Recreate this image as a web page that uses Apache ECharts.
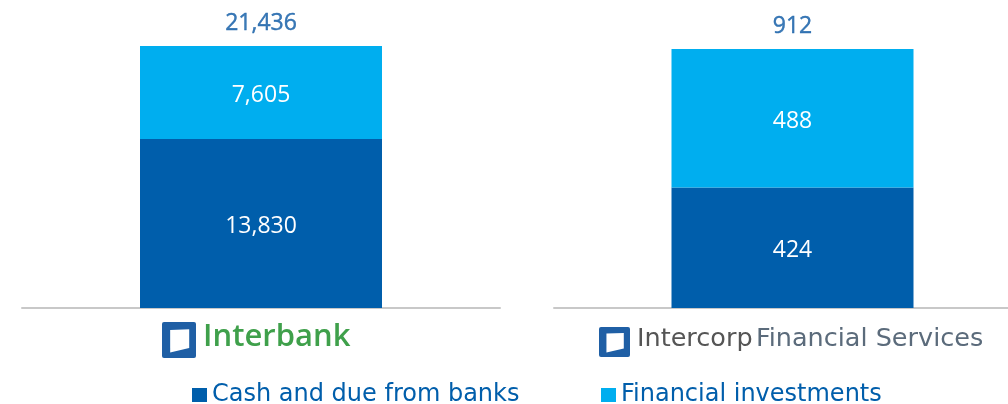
<!DOCTYPE html>
<html><head><meta charset="utf-8">
<script src="https://cdn.jsdelivr.net/npm/echarts@6/dist/echarts.min.js"></script>
<style>html,body{margin:0;padding:0;background:#fff}#c{width:1008px;height:404px}</style>
</head><body><div id="c"></div>
<script>
const categories = ['Interbank', 'Intercorp Financial Services'];
const seriesNames = ['Cash and due from banks', 'Financial investments'];
const cashValues = [13830, 424];
const investValues = [7605, 488];
const totalValues = [21436, 912];

const DARK = '#005EAB', LIGHT = '#00AEEF';
const NUMFONT = 'Open Sans';
const FONT = 'DejaVu Sans';
const chart = echarts.init(document.getElementById('c'));

const grids = [
  {left: 22, width: 478, top: 46, bottom: 96, outerBoundsMode: 'none', containLabel: false},
  {left: 554, width: 477, top: 49, bottom: 96, outerBoundsMode: 'none', containLabel: false}
];
const fmt = v => v.toLocaleString('en-US');
const series = [];
categories.forEach((cat, i) => {
  series.push({
    name: seriesNames[0], type: 'bar', stack: 's' + i, xAxisIndex: i, yAxisIndex: i,
    barWidth: 242, data: [cashValues[i]], itemStyle: {color: DARK},
    label: {show: true, position: 'inside', offset: [0, 3], color: '#fff', fontSize: 23, fontFamily: NUMFONT, formatter: p => fmt(p.value)}
  });
  series.push({
    name: seriesNames[1], type: 'bar', stack: 's' + i, xAxisIndex: i, yAxisIndex: i,
    barWidth: 242, data: [investValues[i]], itemStyle: {color: LIGHT},
    label: {show: true, position: 'inside', offset: [0, 3], color: '#fff', fontSize: 23, fontFamily: NUMFONT, formatter: p => fmt(p.value)}
  });
  series.push({
    name: 'total' + i, type: 'scatter', xAxisIndex: i, yAxisIndex: i, symbolSize: 0,
    data: [totalValues[i]], silent: true,
    label: {show: true, position: 'top', distance: 11, color: '#0A58A4', fontSize: 23, fontFamily: NUMFONT,
      textBorderColor: '#0A58A4', textBorderWidth: 0.4, formatter: p => fmt(p.value)}
  });
});

function logoIcon(x, y, w, h) {
  return [
    {type: 'rect', shape: {x: x, y: y, width: w, height: h, r: 2}, style: {fill: '#1F5FA5'}},
    {type: 'polygon', shape: {points: [[x + w*0.24, y + h*0.22], [x + w*0.8, y + h*0.2], [x + w*0.8, y + h*0.72], [x + w*0.24, y + h*0.85]]}, style: {fill: '#fff'}}
  ];
}

chart.setOption({
  animation: false,
  grid: grids,
  xAxis: grids.map((g, i) => ({
    type: 'category', gridIndex: i, data: [categories[i]],
    axisLine: {lineStyle: {color: '#C8C8C8', width: 2}}, axisTick: {show: false}, axisLabel: {show: false}
  })),
  yAxis: grids.map((g, i) => ({
    type: 'value', gridIndex: i, min: 0, max: totalValues[i], show: false, splitLine: {show: false}
  })),
  legend: [
    {data: [seriesNames[0]], left: 192, top: 383, padding: 0, icon: 'rect', itemWidth: 15, itemHeight: 14,
     textStyle: {color: DARK, fontSize: 24, fontFamily: FONT}},
    {data: [seriesNames[1]], left: 601, top: 383, padding: 0, icon: 'rect', itemWidth: 15, itemHeight: 14,
     textStyle: {color: DARK, fontSize: 24, fontFamily: FONT}}
  ],
  graphic: [
    ...logoIcon(162, 322, 34, 36),
    {type: 'text', left: 203, top: 322, style: {text: 'Interbank', fill: '#3FA04B', font: '600 31px "Open Sans"'}},
    ...logoIcon(599, 327, 31, 30),
    {type: 'text', left: 637, top: 326, style: {rich: {a: {fill: '#555555', font: '25.5px ' + FONT}, b: {fill: '#5B6B7B', font: '25.5px ' + FONT}}, text: '{a|Intercorp} {b|Financial Services}'}}
  ],
  series: series
});
</script></body></html>
